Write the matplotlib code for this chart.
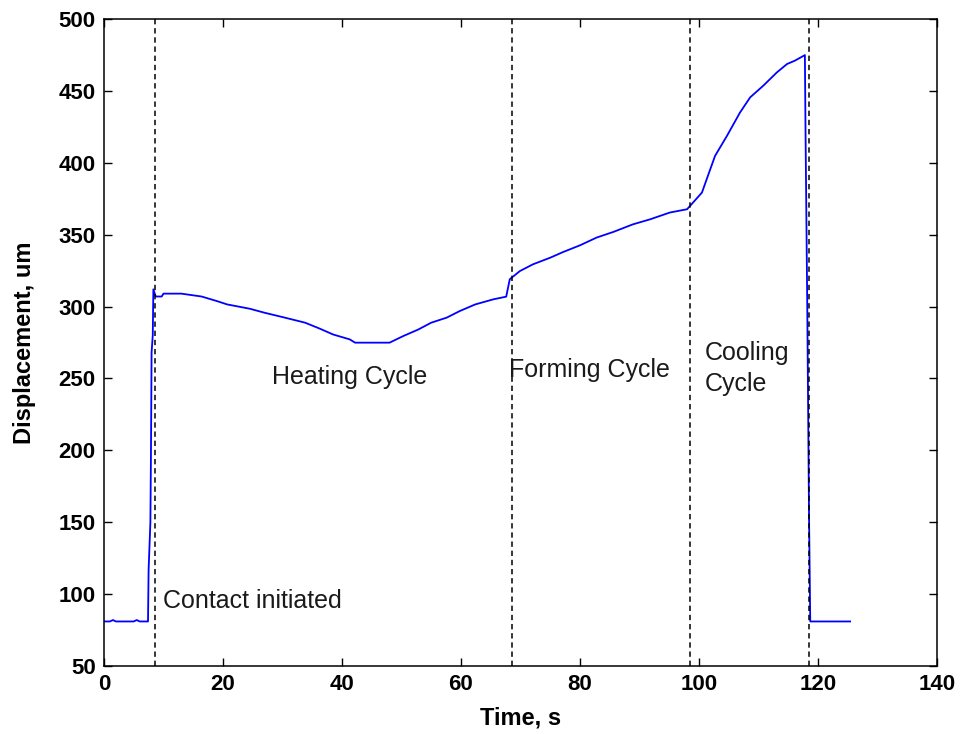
import matplotlib
matplotlib.use("Agg")
import matplotlib.pyplot as plt

# Displacement trace (time in s, displacement in um)
time_s = [0, 1.0, 1.5, 2.0, 3.0, 5.0, 5.5, 6.0, 7.4, 7.5, 7.8, 7.9, 8.0, 8.2, 8.3,
          8.7, 9.7, 10.0, 13.0, 16.4, 19.0, 20.7, 24.5, 27.0, 30.4, 33.8, 36.3,
          38.5, 41.3, 42.2, 48.0, 50.3, 52.8, 55.0, 57.6, 59.8, 62.4, 65.4, 67.6,
          68.2, 69.9, 72.1, 75.0, 77.2, 80.0, 82.8, 85.6, 88.9, 91.8, 95.1, 98.0,
          100.5, 101.3, 102.7, 104.7, 106.9, 108.6, 110.8, 113.1, 114.8, 116.1,
          117.8, 117.9, 118.2, 118.5, 118.7, 125.4]
displacement_um = [81, 81, 82, 81, 81, 81, 82, 81, 81, 117, 150, 200, 268, 280, 312,
                   307, 307, 309, 309, 307, 303.8, 301.5, 298.5, 295.7, 292.3,
                   288.8, 284.6, 280.6, 277.2, 274.9, 274.9, 279.5, 284, 288.8, 292.3,
                   296.9, 301.5, 305, 306.9, 319, 324.7, 329.4, 334, 338, 342.6, 348,
                   351.9, 357.2, 360.7, 365.4, 367.7, 379.3, 388.6, 404.8, 418.7, 435,
                   445.5, 453.6, 462.9, 468.7, 471, 474.9, 425, 300, 153, 81, 81]

# Phase boundaries (s)
phase_marks = [8.5, 68.5, 98.5, 118.5]

x_ticks = [0, 20, 40, 60, 80, 100, 120, 140]
y_ticks = [50, 100, 150, 200, 250, 300, 350, 400, 450, 500]

label_font = "Liberation Sans"

fig = plt.figure(figsize=(9.61, 7.34), dpi=100)
ax = fig.add_axes([0.1082, 0.0926, 0.975 - 0.1082, 0.9741 - 0.0926])

ax.plot(time_s, displacement_um, color="#0000ff", lw=1.3)
for t in phase_marks:
    ax.axvline(t, color="black", lw=1.1, linestyle=(0, (3.5, 2.5)))

ax.set_xlim(0, 140)
ax.set_ylim(50, 500)
ax.set_xticks(x_ticks)
ax.set_yticks(y_ticks)
ax.tick_params(direction="in", length=6, width=1, top=True, right=True, pad=6)
for lab in ax.get_xticklabels() + ax.get_yticklabels():
    lab.set_fontfamily(label_font)
    lab.set_fontweight("bold")
    lab.set_fontsize(16)
for sp in ax.spines.values():
    sp.set_linewidth(1.1)

ax.set_xlabel("Time, s", fontfamily=label_font, fontweight="bold", fontsize=17, labelpad=8)
ax.set_ylabel("Displacement, um", fontfamily=label_font, fontweight="bold", fontsize=17, labelpad=16)

txt = dict(fontfamily="Liberation Sans", fontsize=18, color="#1a1a1a")
ax.text(28.2, 251, "Heating Cycle", va="center", ha="left", **txt)
ax.text(68.1, 255.6, "Forming Cycle", va="center", ha="left", **txt)
ax.text(101.0, 257, "Cooling\nCycle", va="center", ha="left", linespacing=1.35, **txt)
ax.text(9.9, 95.4, "Contact initiated", va="center", ha="left", **txt)

fig.savefig("out.png", dpi=100)
